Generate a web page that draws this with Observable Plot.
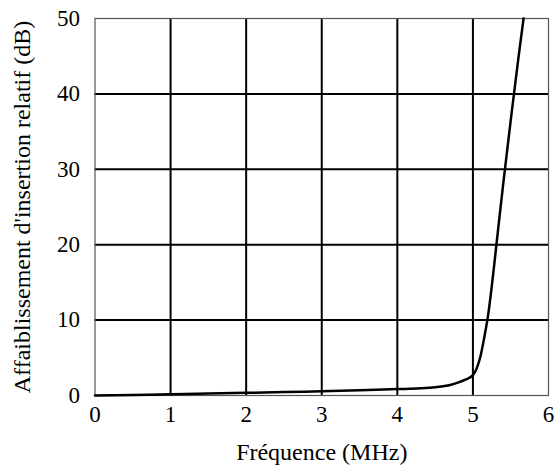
<!DOCTYPE html>
<html>
<head>
<meta charset="utf-8">
<script src="https://cdn.jsdelivr.net/npm/d3@7"></script>
<script src="https://cdn.jsdelivr.net/npm/@observablehq/plot@0.6"></script>
<style>
body { margin: 0; background: #fff; }
</style>
</head>
<body>
<div id="chart"></div>
<script>
const freq = [0, 0.5, 1, 1.5, 2, 2.5, 3, 3.5, 4, 4.3, 4.5, 4.7, 4.8, 4.9, 5.0, 5.05, 5.1, 5.15, 5.2, 5.25, 5.3, 5.4, 5.5, 5.6, 5.67];
const atten = [0, 0.08, 0.15, 0.25, 0.35, 0.45, 0.55, 0.68, 0.85, 0.95, 1.1, 1.4, 1.7, 2.1, 2.7, 3.6, 5.2, 7.7, 10.6, 14.5, 19, 28, 36.5, 44.6, 50];
const xTicks = [0, 1, 2, 3, 4, 5, 6];
const yTicks = [0, 10, 20, 30, 40, 50];
const xLabel = "Fréquence (MHz)";
const yLabel = "Affaiblissement d'insertion relatif (dB)";

const data = freq.map((f, i) => ({f, a: atten[i]}));
const serif = "'Liberation Serif', 'Times New Roman', serif";

const chart = Plot.plot({
  width: 557,
  height: 476,
  marginLeft: 94.5,
  marginRight: 9,
  marginTop: 18,
  marginBottom: 81,
  style: {fontFamily: serif, background: "#fff", color: "#000"},
  x: {domain: [0, 6]},
  y: {domain: [0, 50]},
  marks: [
    Plot.gridX(xTicks.slice(1, -1), {stroke: "#000", strokeOpacity: 1, strokeWidth: 2}),
    Plot.gridY(yTicks.slice(1, -1), {stroke: "#000", strokeOpacity: 1, strokeWidth: 2}),
    Plot.frame({stroke: "#555", strokeWidth: 1.2}),
    Plot.axisX(xTicks, {tickSize: 0, tickPadding: 10, fontSize: 23, fontFamily: serif, label: null}),
    Plot.axisY(yTicks, {tickSize: 0, tickPadding: 15, fontSize: 23, fontFamily: serif, label: null}),
    Plot.line(data, {x: "f", y: "a", stroke: "#000", strokeWidth: 2.5, curve: "monotone-x"}),
    Plot.text([xLabel], {frameAnchor: "bottom", dy: 64, fontSize: 24, fontFamily: serif, text: d => d}),
    Plot.text([yLabel], {frameAnchor: "left", textAnchor: "middle", dx: -72.5, rotate: -90, fontSize: 24, fontFamily: serif, text: d => d})
  ]
});
document.getElementById("chart").appendChild(chart);
</script>
</body>
</html>
